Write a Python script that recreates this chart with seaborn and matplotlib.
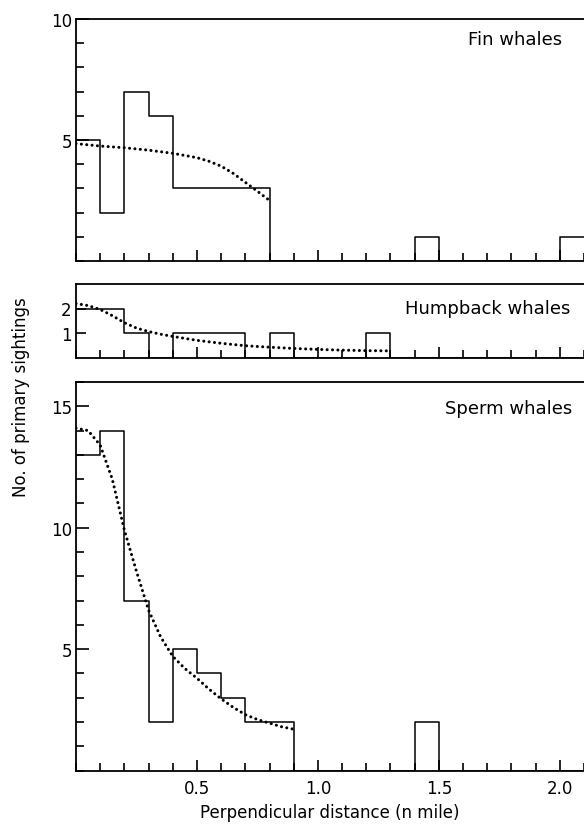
import numpy as np
import pandas as pd
import matplotlib
matplotlib.use("Agg")
import matplotlib.pyplot as plt
import seaborn as sns
from matplotlib.ticker import MultipleLocator, FixedLocator

# ---------------- data ----------------
bin_width = 0.1
n_bins = 21  # 0.0 .. 2.1

fin_counts = [5, 2, 7, 6, 3, 3, 3, 3, 0, 0, 0, 0, 0, 0, 1, 0, 0, 0, 0, 0, 1]
hump_counts = [2, 2, 1, 0, 1, 1, 1, 0, 1, 0, 0, 0, 1, 0, 0, 0, 0, 0, 0, 0, 0]
sperm_counts = [13, 14, 7, 2, 5, 4, 3, 2, 2, 0, 0, 0, 0, 0, 2, 0, 0, 0, 0, 0, 0]

fin_fit_x = [0.0, 0.05, 0.1, 0.2, 0.3, 0.4, 0.5, 0.55, 0.6, 0.65, 0.7, 0.75, 0.8]
fin_fit_y = [4.85, 4.80, 4.75, 4.68, 4.58, 4.45, 4.27, 4.12, 3.92, 3.62, 3.25, 2.88, 2.50]

hump_fit_x = [0.0, 0.05, 0.1, 0.15, 0.2, 0.25, 0.3, 0.35, 0.4, 0.5, 0.6, 0.7, 0.8, 0.9, 1.0, 1.1, 1.2, 1.3]
hump_fit_y = [2.20, 2.12, 1.96, 1.71, 1.42, 1.20, 1.06, 0.95, 0.86, 0.70, 0.58, 0.48, 0.42, 0.37, 0.33, 0.30, 0.28, 0.27]

sperm_fit_x = [0.0, 0.05, 0.1, 0.15, 0.2, 0.25, 0.3, 0.35, 0.4, 0.45, 0.5, 0.55, 0.6, 0.65, 0.7, 0.75, 0.8, 0.85, 0.9]
sperm_fit_y = [14.1, 14.0, 13.4, 12.0, 9.9, 8.2, 6.6, 5.5, 4.7, 4.2, 3.8, 3.35, 2.95, 2.6, 2.3, 2.1, 1.95, 1.8, 1.7]

species = ["Fin whales", "Humpback whales", "Sperm whales"]
x_tick_labels = ["0.5", "1.0", "1.5", "2.0"]
x_tick_values = [0.5, 1.0, 1.5, 2.0]

# ---------------- figure ----------------
sns.set_style("ticks")
plt.rcParams["font.family"] = ["DejaVu Sans"]

W, H = 584, 829
fig = plt.figure(figsize=(W / 100, H / 100), dpi=100)

def ax_rect(top_px, bottom_px, left_px=76, right_px=584):
    return [left_px / W, 1 - bottom_px / H, (right_px - left_px) / W, (bottom_px - top_px) / H]

ax_fin = fig.add_axes(ax_rect(20, 262))
ax_hump = fig.add_axes(ax_rect(285, 358.5))
ax_sperm = fig.add_axes(ax_rect(383, 771.5))

centers = np.arange(n_bins) * bin_width + bin_width / 2

panels = [
    (ax_fin, fin_counts, fin_fit_x, fin_fit_y, 10, [5, 10], (0.957, 0.917)),
    (ax_hump, hump_counts, hump_fit_x, hump_fit_y, 3, [1, 2], (0.974, 0.673)),
    (ax_sperm, sperm_counts, sperm_fit_x, sperm_fit_y, 16, [5, 10, 15], (0.976, 0.933)),
]

for i, (ax, counts, fx, fy, ytop, ymajor, tpos) in enumerate(panels):
    df = pd.DataFrame({"dist": centers, "n": counts})
    sns.histplot(data=df, x="dist", weights="n", binwidth=bin_width,
                 binrange=(0, n_bins * bin_width), element="step",
                 fill=False, color="black", linewidth=1.1, ax=ax)
    sns.lineplot(x=fx, y=fy, ax=ax, color="black", linewidth=2.2,
                 linestyle=(0, (0.01, 1.75)), dash_capstyle="round",
                 estimator=None, sort=False)
    ax.set_xlim(0, 2.1)
    ax.set_ylim(0, ytop)
    ax.set_xlabel("")
    ax.set_ylabel("")
    for s in ["left", "bottom", "top"]:
        ax.spines[s].set_visible(True)
        ax.spines[s].set_linewidth(1.3)
        ax.spines[s].set_color("black")
    ax.spines["right"].set_visible(False)

    ax.xaxis.set_major_locator(FixedLocator(x_tick_values))
    ax.xaxis.set_minor_locator(MultipleLocator(0.1))
    ax.yaxis.set_major_locator(FixedLocator(ymajor))
    if ytop > 3:
        ax.yaxis.set_minor_locator(MultipleLocator(1))
    ax.tick_params(axis="both", which="both", direction="in", colors="black",
                   top=False, right=False)
    ax.tick_params(axis="x", which="major", length=8, width=1.2)
    ax.tick_params(axis="x", which="minor", length=5.8, width=1.2)
    ax.tick_params(axis="y", which="major", length=9.4 if ytop > 3 else 7.5, width=1.2,
                   labelsize=12, pad=3)
    ax.tick_params(axis="y", which="minor", length=5.8, width=1.2)
    if ax is ax_sperm:
        ax.set_xticklabels(x_tick_labels)
        ax.tick_params(axis="x", labelsize=12, pad=6)
    else:
        ax.tick_params(axis="x", labelbottom=False)
    ax.text(tpos[0], tpos[1], species[i], transform=ax.transAxes,
            ha="right", va="center", fontsize=13, color="black")

fig.text(76 / W + (508 / W) / 2, 1 - 813 / H, "Perpendicular distance (n mile)",
         ha="center", va="center", fontsize=12, color="black")
fig.text(21 / W, 1 - 397 / H, "No. of primary sightings", rotation=90,
         ha="center", va="center", fontsize=12, color="black")

fig.savefig("out.png", dpi=100)
